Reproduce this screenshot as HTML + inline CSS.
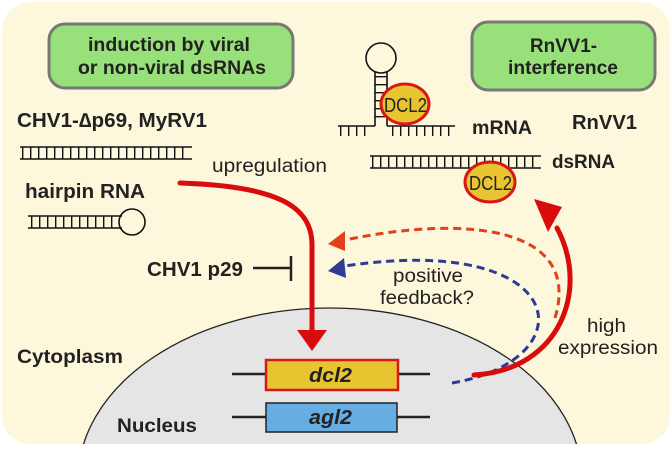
<!DOCTYPE html>
<html><head><meta charset="utf-8"><style>
html,body{margin:0;padding:0;background:#fff;overflow:hidden;width:672px;height:450px;}
svg{display:block;font-family:"Liberation Sans",Arial,sans-serif;}
.b{font-weight:bold;}
</style></head><body>
<svg width="672" height="450" viewBox="0 0 672 450" xmlns="http://www.w3.org/2000/svg">
<defs><clipPath id="c"><rect x="2" y="2" width="668" height="442" rx="28"/></clipPath></defs>
<rect x="2" y="2" width="668" height="442" rx="28" fill="#fdf8dc"/>
<g clip-path="url(#c)">
<ellipse cx="330" cy="480" rx="252" ry="172" fill="#e5e5e5" stroke="#222" stroke-width="1.3"/>
</g>
<rect x="49" y="24" width="244" height="64" rx="16" fill="#98e07a" stroke="#777" stroke-width="3"/>
<text x="88" y="51" font-size="19" class="b" fill="#222" textLength="162" lengthAdjust="spacingAndGlyphs">induction by viral</text>
<text x="78" y="74" font-size="19" class="b" fill="#222" textLength="188" lengthAdjust="spacingAndGlyphs">or non-viral dsRNAs</text>
<rect x="472" y="22" width="183" height="68" rx="16" fill="#98e07a" stroke="#777" stroke-width="3"/>
<text x="530" y="52" font-size="19" class="b" fill="#222" textLength="67" lengthAdjust="spacingAndGlyphs">RnVV1-</text>
<text x="508" y="74" font-size="19" class="b" fill="#222" textLength="110" lengthAdjust="spacingAndGlyphs">interference</text>
<text x="17" y="127" font-size="20" class="b" fill="#222" textLength="190" lengthAdjust="spacingAndGlyphs">CHV1-∆p69, MyRV1</text>
<text x="212" y="172" font-size="19" fill="#222" textLength="115" lengthAdjust="spacingAndGlyphs">upregulation</text>
<text x="25" y="198" font-size="20" class="b" fill="#222" textLength="120" lengthAdjust="spacingAndGlyphs">hairpin RNA</text>
<line x1="20" y1="147" x2="192" y2="147" stroke="#111" stroke-width="1.6"/>
<line x1="20" y1="159" x2="192" y2="159" stroke="#111" stroke-width="1.6"/>
<line x1="22" y1="153" x2="190" y2="153" stroke="#111" stroke-width="12" stroke-dasharray="1.4 6.6"/>
<line x1="28" y1="216" x2="122" y2="216" stroke="#111" stroke-width="1.6"/>
<line x1="28" y1="228" x2="122" y2="228" stroke="#111" stroke-width="1.6"/>
<line x1="31" y1="222" x2="118" y2="222" stroke="#111" stroke-width="12" stroke-dasharray="1.4 6.6"/>
<circle cx="132" cy="222" r="13" fill="none" stroke="#111" stroke-width="1.6"/>
<circle cx="381" cy="58" r="15" fill="#fdf8dc" stroke="#111" stroke-width="1.6"/>
<line x1="375" y1="71" x2="375" y2="126" stroke="#111" stroke-width="1.6"/>
<line x1="387" y1="71" x2="387" y2="126" stroke="#111" stroke-width="1.6"/>
<line x1="381" y1="76" x2="381" y2="122" stroke="#111" stroke-width="12" stroke-dasharray="1.4 6.6"/>
<line x1="338" y1="126" x2="375" y2="126" stroke="#111" stroke-width="1.6"/>
<line x1="387" y1="126" x2="455" y2="126" stroke="#111" stroke-width="1.6"/>
<line x1="340" y1="131" x2="372" y2="131" stroke="#111" stroke-width="10" stroke-dasharray="1.4 6.6"/>
<line x1="392" y1="131" x2="455" y2="131" stroke="#111" stroke-width="10" stroke-dasharray="1.4 6.6"/>
<ellipse cx="405" cy="104" rx="24" ry="20" fill="#e8c430" stroke="#d81818" stroke-width="3"/>
<text x="384" y="112" font-size="20" fill="#222" textLength="43" lengthAdjust="spacingAndGlyphs">DCL2</text>
<text x="472" y="134" font-size="19" class="b" fill="#222" textLength="60" lengthAdjust="spacingAndGlyphs">mRNA</text>
<text x="572" y="129" font-size="20" class="b" fill="#222" textLength="65" lengthAdjust="spacingAndGlyphs">RnVV1</text>
<line x1="370" y1="156" x2="541" y2="156" stroke="#111" stroke-width="1.6"/>
<line x1="370" y1="168" x2="541" y2="168" stroke="#111" stroke-width="1.6"/>
<line x1="372" y1="162" x2="539" y2="162" stroke="#111" stroke-width="12" stroke-dasharray="1.4 6.6"/>
<text x="552" y="168" font-size="19" class="b" fill="#222" textLength="63" lengthAdjust="spacingAndGlyphs">dsRNA</text>
<ellipse cx="490" cy="182" rx="25" ry="20" fill="#e8c430" stroke="#d81818" stroke-width="3"/>
<text x="469" y="190" font-size="20" fill="#222" textLength="43" lengthAdjust="spacingAndGlyphs">DCL2</text>
<text x="147" y="276" font-size="20" class="b" fill="#222" textLength="96" lengthAdjust="spacingAndGlyphs">CHV1 p29</text>
<line x1="253" y1="268" x2="291" y2="268" stroke="#222" stroke-width="2.5"/>
<line x1="291" y1="256" x2="291" y2="281" stroke="#222" stroke-width="2.5"/>
<path d="M555,318 C582,228 470,214 345,240" fill="none" stroke="#e0401c" stroke-width="3" stroke-dasharray="8 5"/>
<polygon points="328,244 345,231 345,251" fill="#e0401c"/>
<path d="M452,383 C588,360 572,232 345,266" fill="none" stroke="#2f3a96" stroke-width="3" stroke-dasharray="8 5"/>
<polygon points="328,271 344,258 346,278" fill="#2f3a96"/>
<text x="393" y="282" font-size="19" fill="#222" textLength="70" lengthAdjust="spacingAndGlyphs">positive</text>
<text x="380" y="304" font-size="19" fill="#222" textLength="94" lengthAdjust="spacingAndGlyphs">feedback?</text>
<path d="M180,183 C275,186 312,205 312,245 L312,332" fill="none" stroke="#d80c0c" stroke-width="5" stroke-linecap="round"/>
<polygon points="297,330 327,330 312,351" fill="#d80c0c"/>
<path d="M474,375 C560,370 590,290 557,228" fill="none" stroke="#d80c0c" stroke-width="5" stroke-linecap="round"/>
<polygon points="534,199 562,207 548,232" fill="#d80c0c"/>
<text x="587" y="332" font-size="19" fill="#222" textLength="39" lengthAdjust="spacingAndGlyphs">high</text>
<text x="558" y="354" font-size="19" fill="#222" textLength="100" lengthAdjust="spacingAndGlyphs">expression</text>
<text x="17" y="363" font-size="19" class="b" fill="#222" textLength="106" lengthAdjust="spacingAndGlyphs">Cytoplasm</text>
<text x="117" y="432" font-size="19" class="b" fill="#222" textLength="80" lengthAdjust="spacingAndGlyphs">Nucleus</text>
<line x1="232" y1="374" x2="430" y2="374" stroke="#222" stroke-width="2.5"/>
<rect x="266" y="360" width="132" height="30" fill="#e8c430" stroke="#d81818" stroke-width="2.5"/>
<text x="309" y="382" font-size="20" font-weight="bold" font-style="italic" fill="#222" textLength="43" lengthAdjust="spacingAndGlyphs">dcl2</text>
<line x1="232" y1="417" x2="430" y2="417" stroke="#222" stroke-width="2.5"/>
<rect x="266" y="403" width="131" height="29" fill="#66aee2" stroke="#222" stroke-width="1.5"/>
<text x="309" y="424" font-size="20" font-weight="bold" font-style="italic" fill="#222" textLength="43" lengthAdjust="spacingAndGlyphs">agl2</text>
</svg>
</body></html>
